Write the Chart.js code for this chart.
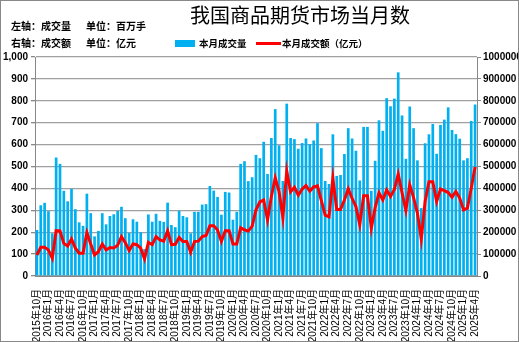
<!DOCTYPE html>
<html>
<head>
<meta charset="utf-8">
<script src="https://cdn.jsdelivr.net/npm/chart.js@4/dist/chart.umd.min.js"></script>
<style>
  body { margin: 0; background: #fff; }
  #wrap { position: relative; width: 519px; height: 342px; }
  #frame { position: absolute; left: 0; top: 0; width: 517px; height: 340px; border: 1px solid #888; pointer-events: none; }
  canvas { position: absolute; left: 0; top: 0; }
  .txt { position: absolute; font-family: "Noto Sans CJK SC", sans-serif; white-space: nowrap; color: #000; }
  #title { left: 190px; top: 2px; font-size: 20px; line-height: 26px; }
  .note { font-size: 10px; font-weight: bold; line-height: 14px; }
  .leg { font-size: 9.5px; font-weight: bold; line-height: 14px; }
</style>
</head>
<body>
<div id="wrap">
  <canvas id="chart" width="519" height="342"></canvas>
  <div id="title" class="txt">我国商品期货市场当月数</div>
  <div class="txt note" style="left:11px; top:19px;">左轴：成交量</div>
  <div class="txt note" style="left:86px; top:19px;">单位：百万手</div>
  <div class="txt note" style="left:11px; top:36px;">右轴：成交额</div>
  <div class="txt note" style="left:86px; top:36px;">单位：亿元</div>
  <div id="legend"></div>
  <div id="frame"></div>
</div>
<script>
// months 2015-10 .. 2025-04
const months = [];
for (let y = 2015, m = 10; y < 2025 || (y === 2025 && m <= 4); m++) {
    if (m > 12) { m = 1; y++; }
    if (y === 2025 && m > 4) break;
    months.push(y + '年' + m + '月');
}

// 本月成交量, 百万手
const volume = [
    210, 323, 334, 296, 195, 541, 512, 389, 341, 398, 305, 245, 229, 376, 287, 181, 206, 287, 236, 274,
    282, 297, 316, 264, 197, 259, 248, 200, 123, 281, 248, 284, 252, 247, 335, 233, 223, 298, 274, 268,
    195, 293, 293, 326, 328, 411, 390, 361, 280, 384, 381, 257, 293, 512, 524, 433, 451, 553, 538, 613,
    466, 630, 762, 597, 434, 787, 630, 625, 581, 607, 628, 602, 619, 698, 584, 434, 420, 647, 457, 461,
    557, 675, 628, 572, 436, 681, 681, 389, 526, 711, 663, 812, 775, 810, 930, 733, 535, 774, 675, 528,
    310, 606, 647, 694, 558, 690, 714, 770, 667, 648, 627, 528, 538, 708, 783
];

// 本月成交额, 亿元
const turnover = [
    96000, 131000, 131000, 119000, 81000, 207000, 206000, 149000, 137000, 169000,
    127000, 104000, 104000, 198000, 146000, 96000, 111000, 146000, 119000, 130000,
    128000, 140000, 180000, 152000, 116000, 146000, 143000, 127000, 78000, 154000,
    143000, 180000, 165000, 159000, 206000, 143000, 145000, 176000, 157000, 157000,
    108000, 157000, 159000, 180000, 185000, 229000, 229000, 210000, 158000, 207000,
    207000, 146000, 146000, 220000, 211000, 205000, 228000, 302000, 338000, 347000,
    256000, 363000, 448000, 385000, 266000, 480000, 384000, 405000, 369000, 396000,
    413000, 388000, 407000, 412000, 344000, 278000, 270000, 446000, 304000, 304000,
    347000, 398000, 355000, 317000, 234000, 366000, 366000, 218000, 312000, 380000,
    347000, 393000, 363000, 395000, 466000, 380000, 299000, 416000, 358000, 287000,
    168000, 340000, 430000, 430000, 340000, 397000, 390000, 381000, 360000, 386000,
    356000, 302000, 310000, 401000, 498000
];

const barColor = '#00B0F0';
const lineColor = '#FF0000';
const numFont = { family: '"Liberation Sans", Arial, sans-serif', size: 10, weight: 'bold' };

// html legend
const legend = document.getElementById('legend');
legend.innerHTML =
    '<div style="position:absolute;left:175px;top:40px;width:20px;height:7px;background:' + barColor + '"></div>' +
    '<div class="txt leg" style="left:199px;top:36px;">本月成交量</div>' +
    '<div style="position:absolute;left:256px;top:42px;width:25px;height:3px;background:' + lineColor + '"></div>' +
    '<div class="txt leg" style="left:282px;top:36px;">本月成交额（亿元）</div>';

new Chart(document.getElementById('chart'), {
    data: {
        labels: months,
        datasets: [
            {
                type: 'line',
                label: '本月成交额（亿元）',
                data: turnover,
                yAxisID: 'y1',
                borderColor: lineColor,
                borderWidth: 3,
                pointRadius: 0,
                tension: 0,
                order: 1
            },
            {
                type: 'bar',
                label: '本月成交量',
                data: volume,
                yAxisID: 'y',
                backgroundColor: barColor,
                barPercentage: 0.7,
                categoryPercentage: 1,
                order: 2
            }
        ]
    },
    options: {
        responsive: false,
        animation: false,
        layout: { padding: { top: 57, left: 0, right: 0, bottom: 0 } },
        plugins: {
            legend: { display: false },
            title: { display: false },
            tooltip: { enabled: false }
        },
        scales: {
            x: {
                offset: true,
                grid: { display: false },
                border: { display: true, color: '#888', width: 1 },
                ticks: {
                    autoSkip: false,
                    maxRotation: 90,
                    minRotation: 90,
                    padding: 5,
                    color: '#000',
                    font: { family: '"Liberation Sans", "Noto Sans CJK SC", sans-serif', size: 10 },
                    callback: function (v, i) { return i % 3 === 0 ? this.getLabelForValue(v) : ''; }
                },
                afterFit: function (s) { s.height = 66; }
            },
            y: {
                position: 'left',
                min: 0,
                max: 1000,
                grid: { color: '#a0a0a0', lineWidth: 1.3, tickLength: 4, tickColor: '#888' },
                border: { display: true, color: '#888', width: 1 },
                ticks: {
                    stepSize: 100,
                    padding: 3,
                    color: '#000',
                    font: numFont,
                    callback: v => v.toLocaleString('en-US')
                },
                afterFit: function (s) { s.width = 35; }
            },
            y1: {
                position: 'right',
                min: 0,
                max: 1000000,
                grid: { drawOnChartArea: false, tickLength: 4, tickColor: '#888' },
                border: { display: true, color: '#888', width: 1 },
                ticks: {
                    stepSize: 100000,
                    padding: 2,
                    color: '#000',
                    font: numFont,
                    callback: v => String(v)
                },
                afterFit: function (s) { s.width = 42; }
            }
        }
    }
});
</script>
</body>
</html>
